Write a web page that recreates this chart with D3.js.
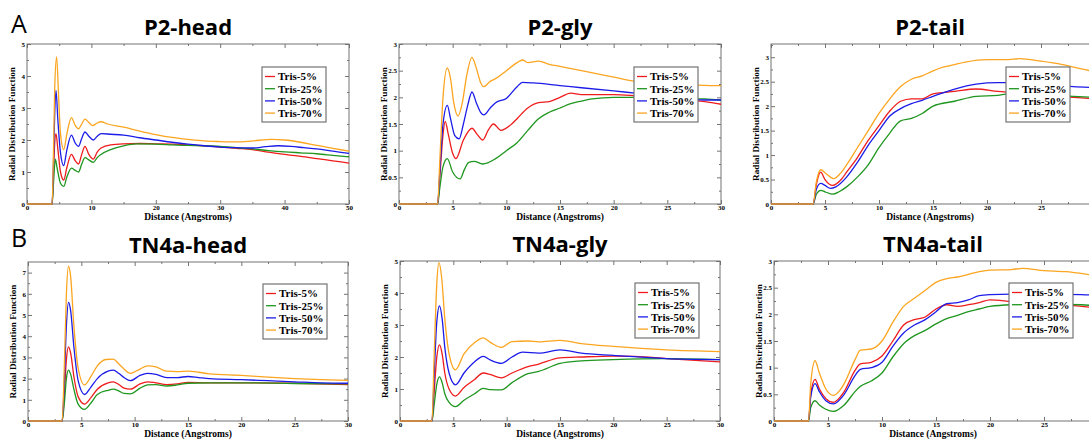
<!DOCTYPE html>
<html>
<head>
<meta charset="utf-8">
<script src="https://cdn.jsdelivr.net/npm/d3@7"></script>
<style>
  body { margin: 0; background: #fff; }
  svg { display: block; }
  .tick text { font-family: 'Liberation Serif', serif; font-weight: bold; fill: #000; }
</style>
</head>
<body>
<svg id="rdf" width="1089" height="440"></svg>
<script>
// series shared by all six panels
const seriesNames = ['Tris-5%', 'Tris-25%', 'Tris-50%', 'Tris-70%'];
const seriesColors = ['#ee1c1c', '#1f961f', '#1c1ce8', '#fba520'];

// P2-head  [distance, g(r)]
const p2Head5 = [[0,0],[3.9,0],[4.1,0.9],[4.3,1.9],[4.5,2.2],[4.8,1.7],[5.2,1.0],[5.7,0.75],[6.2,1.15],[6.9,1.55],[7.5,1.35],[8,1.25],[8.5,1.55],[9,1.8],[9.6,1.55],[10.3,1.4],[10.9,1.62],[11.5,1.75],[13,1.85],[15,1.88],[17.5,1.89],[20,1.88],[22.5,1.87],[25,1.85],[27.5,1.82],[30,1.78],[32.5,1.74],[35,1.7],[37.5,1.62],[40,1.55],[42.5,1.49],[45,1.42],[47.5,1.35],[50,1.28]];
const p2Head25 = [[0,0],[3.9,0],[4.1,0.6],[4.4,1.4],[4.7,1.1],[5.2,0.65],[5.7,0.55],[6.2,0.85],[6.9,1.12],[7.5,1.05],[8,1.0],[8.5,1.25],[9,1.45],[9.6,1.38],[10.3,1.3],[10.9,1.45],[11.5,1.55],[13,1.7],[15,1.82],[17,1.88],[20,1.87],[22.5,1.85],[25,1.83],[27.5,1.82],[30,1.8],[32.5,1.76],[35,1.72],[37.5,1.67],[40,1.63],[42.5,1.6],[45,1.57],[47.5,1.52],[50,1.47]];
const p2Head50 = [[0,0],[3.9,0],[4.1,1.2],[4.3,2.8],[4.5,3.55],[4.8,2.6],[5.2,1.6],[5.7,1.2],[6.2,1.7],[6.9,2.15],[7.5,1.9],[8,1.8],[8.5,2.05],[9,2.25],[9.6,2.12],[10.3,2.0],[10.9,2.12],[11.5,2.2],[13,2.18],[15,2.15],[17.5,2.07],[20,2.0],[22.5,1.93],[25,1.87],[27.5,1.82],[30,1.78],[32.5,1.76],[35,1.75],[37,1.79],[39,1.82],[41,1.8],[43,1.76],[45,1.72],[47.5,1.65],[50,1.58]];
const p2Head70 = [[0,0],[3.9,0],[4.1,1.5],[4.3,3.6],[4.6,4.6],[4.9,3.4],[5.2,2.2],[5.7,1.7],[6.2,2.2],[6.9,2.7],[7.5,2.45],[8,2.35],[8.5,2.5],[9,2.65],[9.6,2.55],[10.2,2.45],[10.8,2.52],[11.5,2.57],[12.5,2.5],[15,2.4],[17.5,2.28],[20,2.17],[22.5,2.08],[25,2.02],[27.5,1.97],[30,1.95],[32.5,1.94],[35,1.97],[38,2.02],[40,2.0],[42.5,1.93],[45,1.83],[47.5,1.74],[50,1.65]];

// P2-gly
const p2Gly5 = [[0,0],[3.6,0],[3.8,0.5],[4.1,1.3],[4.3,1.55],[4.6,1.3],[5.0,0.95],[5.3,0.85],[6,1.2],[6.8,1.42],[7.3,1.3],[7.8,1.2],[8.3,1.38],[8.8,1.5],[9.5,1.38],[10.5,1.5],[11,1.6],[12,1.8],[13,1.9],[14,1.92],[15,2.0],[16,2.08],[17,2.05],[18,2.05],[20,2.05],[22,2.03],[25,1.98],[28.5,1.92],[30,1.87]];
const p2Gly25 = [[0,0],[3.6,0],[3.8,0.3],[4.1,0.7],[4.5,0.85],[5,0.6],[5.7,0.47],[6.1,0.65],[6.5,0.78],[7,0.8],[7.8,0.75],[9,0.85],[10,1.0],[11,1.15],[12,1.38],[13,1.6],[14,1.72],[15,1.8],[16,1.88],[17,1.93],[18,1.97],[20,2.0],[22,2.0],[25,1.99],[28.5,1.97],[30,1.95]];
const p2Gly50 = [[0,0],[3.6,0],[3.8,0.6],[4.1,1.5],[4.5,1.85],[4.8,1.6],[5.2,1.28],[5.6,1.22],[6.0,1.5],[6.4,1.85],[6.8,2.1],[7.2,1.9],[7.6,1.72],[7.9,1.67],[8.5,1.8],[9,1.9],[10,1.98],[11,2.2],[11.5,2.28],[12.5,2.27],[15,2.22],[17,2.18],[20,2.12],[22,2.08],[25,2.02],[28.5,1.95],[30,1.95]];
const p2Gly70 = [[0,0],[3.6,0],[3.8,0.8],[4.1,2.0],[4.5,2.55],[4.8,2.35],[5.1,1.9],[5.5,1.65],[5.9,1.9],[6.3,2.4],[6.8,2.75],[7.2,2.55],[7.6,2.28],[7.9,2.2],[8.5,2.3],[9,2.35],[10,2.5],[11,2.65],[11.5,2.7],[12,2.65],[13,2.68],[14,2.62],[15,2.58],[17,2.5],[20,2.38],[22,2.3],[25,2.26],[29,2.22],[30,2.22]];

// P2-tail
const p2Tail5 = [[0,0],[3.9,0],[4.2,0.4],[4.6,0.65],[5,0.5],[5.7,0.38],[6.5,0.5],[7,0.65],[8,0.95],[9,1.3],[10,1.6],[11,1.9],[12,2.1],[13,2.15],[14,2.15],[15,2.25],[17,2.3],[19,2.35],[21,2.3],[24,2.25],[28,2.18],[30,2.15]];
const p2Tail25 = [[0,0],[3.9,0],[4.2,0.2],[4.6,0.28],[5,0.25],[5.7,0.2],[6.3,0.25],[7,0.35],[8,0.55],[9,0.8],[10,1.15],[11,1.45],[12,1.7],[13,1.75],[14,1.85],[15,2.0],[17,2.1],[19,2.2],[21,2.22],[22,2.25],[25,2.23],[28,2.2],[30,2.18]];
const p2Tail50 = [[0,0],[3.9,0],[4.2,0.3],[4.6,0.42],[5,0.38],[5.5,0.32],[6,0.35],[7,0.55],[8,0.85],[9,1.2],[10,1.5],[11,1.8],[12,1.95],[13,2.05],[14,2.12],[15,2.2],[17,2.35],[19,2.45],[21,2.48],[23,2.48],[25,2.45],[28,2.4],[30,2.38]];
const p2Tail70 = [[0,0],[3.9,0],[4.2,0.45],[4.6,0.7],[5.1,0.62],[5.8,0.52],[6.4,0.62],[7,0.8],[8,1.15],[9,1.5],[10,1.85],[11,2.15],[12,2.4],[13,2.55],[14,2.62],[15,2.72],[16,2.8],[17,2.85],[18,2.9],[20,2.95],[22,2.95],[23,2.97],[25,2.92],[27,2.85],[29,2.75],[30,2.7]];

// TN4a-head
const tn4aHead5 = [[0,0],[3.2,0],[3.4,1.2],[3.6,2.9],[3.8,3.5],[4.0,3.2],[4.3,2.1],[4.7,1.15],[5.3,0.8],[5.9,1.1],[6.5,1.5],[7.5,1.8],[8,1.85],[8.5,1.72],[9,1.55],[9.6,1.5],[10.5,1.75],[11.2,1.85],[12,1.8],[13,1.72],[14,1.75],[15,1.82],[17,1.8],[20,1.8],[25,1.78],[30,1.72]];
const tn4aHead25 = [[0,0],[3.2,0],[3.4,0.8],[3.6,2.0],[3.8,2.4],[4.0,2.2],[4.3,1.5],[4.7,0.8],[5.3,0.55],[5.9,0.85],[6.5,1.25],[7.5,1.45],[8,1.5],[8.5,1.42],[9,1.3],[9.6,1.28],[10.5,1.55],[11.2,1.7],[12,1.72],[13,1.65],[14,1.7],[15,1.78],[17,1.8],[20,1.8],[25,1.77],[30,1.75]];
const tn4aHead50 = [[0,0],[3.2,0],[3.4,1.8],[3.6,4.5],[3.8,5.6],[4.0,5.2],[4.3,3.5],[4.7,1.9],[5.3,1.25],[5.9,1.6],[6.5,2.0],[7.5,2.35],[8,2.4],[8.5,2.25],[9,2.05],[9.6,1.9],[10.5,2.15],[11.2,2.25],[12,2.2],[13,2.05],[14,2.05],[15,2.1],[16,2.05],[17,2.0],[20,1.95],[22.5,1.9],[25,1.85],[27.5,1.8],[30,1.78]];
const tn4aHead70 = [[0,0],[3.2,0],[3.4,2.5],[3.6,6.0],[3.8,7.3],[4.0,6.8],[4.3,4.5],[4.7,2.5],[5.3,1.7],[5.9,2.1],[6.5,2.6],[7.3,2.9],[8,2.92],[8.5,2.7],[9,2.45],[9.6,2.25],[10.5,2.45],[11.2,2.6],[12,2.55],[13,2.35],[14,2.33],[15,2.35],[16,2.3],[17,2.22],[20,2.15],[22.5,2.07],[25,2.0],[27.5,1.95],[30,1.92]];

// TN4a-gly
const tn4aGly5 = [[0,0],[3.0,0],[3.2,0.9],[3.45,2.0],[3.7,2.38],[3.95,2.1],[4.2,1.5],[4.6,1.0],[5.2,0.78],[6,1.05],[7,1.3],[7.8,1.5],[8.5,1.45],[9.5,1.35],[10.5,1.5],[12,1.7],[13,1.78],[15,1.97],[17,2.0],[20,2.03],[22,2.02],[25,1.95],[30,1.85]];
const tn4aGly25 = [[0,0],[3.0,0],[3.2,0.5],[3.45,1.15],[3.7,1.38],[3.95,1.2],[4.2,0.85],[4.6,0.58],[5.2,0.45],[6,0.65],[7,0.85],[7.8,1.02],[8.5,0.98],[9.5,0.97],[10.5,1.2],[12,1.48],[13,1.55],[15,1.8],[17,1.88],[20,1.92],[25,1.95],[30,1.92]];
const tn4aGly50 = [[0,0],[3.0,0],[3.2,1.4],[3.45,3.1],[3.7,3.6],[3.95,3.2],[4.2,2.3],[4.6,1.5],[5.2,1.13],[6,1.5],[7,1.85],[7.8,2.02],[8.5,1.9],[9.5,1.8],[10.5,2.0],[11.5,2.15],[13,2.12],[15,2.22],[17,2.12],[20,2.05],[25,1.95],[30,1.92]];
const tn4aGly70 = [[0,0],[3.0,0],[3.2,2.0],[3.45,4.3],[3.65,4.95],[3.9,4.5],[4.2,3.2],[4.6,2.1],[5.2,1.6],[6,2.1],[7,2.45],[7.8,2.6],[8.5,2.45],[9.5,2.3],[10.5,2.48],[12,2.5],[13,2.47],[15,2.52],[17,2.42],[20,2.33],[25,2.22],[30,2.17]];

// TN4a-tail
const tn4aTail5 = [[0,0],[3.2,0],[3.4,0.5],[3.8,0.78],[4.2,0.6],[4.8,0.42],[5.5,0.35],[6.5,0.55],[7.5,0.95],[8,1.07],[9,1.1],[10,1.22],[11,1.5],[12,1.8],[13,1.9],[14,1.95],[15,2.1],[16,2.18],[17,2.15],[18,2.18],[19,2.22],[20,2.27],[22,2.24],[25,2.2],[28.5,2.15],[30,2.12]];
const tn4aTail25 = [[0,0],[3.2,0],[3.4,0.25],[3.8,0.38],[4.2,0.3],[4.8,0.22],[5.5,0.18],[6.5,0.3],[7.5,0.55],[8,0.65],[9,0.75],[10,0.9],[11,1.2],[12,1.45],[13,1.6],[14,1.7],[15,1.82],[16,1.92],[17,1.98],[18,2.05],[19,2.1],[20,2.15],[22,2.18],[25,2.19],[28.5,2.18],[30,2.15]];
const tn4aTail50 = [[0,0],[3.2,0],[3.4,0.45],[3.8,0.7],[4.2,0.55],[4.8,0.38],[5.5,0.32],[6.5,0.5],[7.5,0.85],[8,0.97],[9,1.0],[10,1.1],[11,1.4],[12,1.65],[13,1.8],[14,1.9],[15,2.05],[16,2.2],[17,2.22],[18,2.27],[19,2.35],[20,2.37],[22,2.38],[25,2.38],[28.5,2.37],[30,2.35]];
const tn4aTail70 = [[0,0],[3.2,0],[3.4,0.7],[3.8,1.13],[4.2,0.9],[4.8,0.6],[5.5,0.48],[6,0.55],[6.5,0.7],[7.5,1.15],[8,1.33],[9,1.35],[10,1.5],[11,1.85],[12,2.15],[13,2.3],[14,2.45],[15,2.6],[16,2.67],[17,2.7],[18,2.75],[19,2.8],[20,2.83],[22,2.84],[23,2.86],[25,2.82],[27,2.8],[29,2.75],[30,2.72]];

// panel layout (plot frame in px) + axis setup
const panels = [
  { title: 'P2-head', letter: 'A', letterY: 33, x0: 27, y0: 44, x1: 349, y1: 204, xMax: 50, xMajor: 10, yMax: 5, yMajor: 1,
    series: [p2Head5, p2Head25, p2Head50, p2Head70] },
  { title: 'P2-gly', x0: 399, y0: 44, x1: 721, y1: 204, xMax: 30, xMajor: 5, yMax: 3, yMajor: 0.5,
    series: [p2Gly5, p2Gly25, p2Gly50, p2Gly70] },
  { title: 'P2-tail', x0: 771, y0: 44, x1: 1095, y1: 204, xMax: 30, xMajor: 5, yMax: 3.27, yMajor: 0.5,
    series: [p2Tail5, p2Tail25, p2Tail50, p2Tail70] },
  { title: 'TN4a-head', letter: 'B', letterY: 247, x0: 28, y0: 262, x1: 348, y1: 421, xMax: 30, xMajor: 5, yMax: 7.5, yMajor: 1,
    series: [tn4aHead5, tn4aHead25, tn4aHead50, tn4aHead70] },
  { title: 'TN4a-gly', x0: 400, y0: 261, x1: 720, y1: 421, xMax: 30, xMajor: 5, yMax: 5, yMajor: 1,
    series: [tn4aGly5, tn4aGly25, tn4aGly50, tn4aGly70] },
  { title: 'TN4a-tail', x0: 774, y0: 261, x1: 1098, y1: 421, xMax: 30, xMajor: 5, yMax: 3, yMajor: 0.5,
    series: [tn4aTail5, tn4aTail25, tn4aTail50, tn4aTail70] },
];

const pageW = 1089;
const svg = d3.select('#rdf');
svg.append('rect').attr('width', pageW).attr('height', 440).attr('fill', '#fff');

const frameColor = '#737373';

panels.forEach((p, pi) => {
  const w = p.x1 - p.x0;
  const h = p.y1 - p.y0;
  const x = d3.scaleLinear().domain([0, p.xMax]).range([0, w]);
  const y = d3.scaleLinear().domain([0, p.yMax]).range([h, 0]);

  const majorX = d3.range(0, p.xMax + 1e-9, p.xMajor);
  const minorX = d3.range(p.xMajor / 2, p.xMax, p.xMajor);
  const yTop = Math.floor(p.yMax / p.yMajor + 1e-9) * p.yMajor;
  const majorY = d3.range(0, yTop + 1e-9, p.yMajor).map(v => +v.toFixed(2));
  const minorY = d3.range(p.yMajor / 2, p.yMax, p.yMajor).map(v => +v.toFixed(3));

  const g = svg.append('g').attr('transform', `translate(${p.x0},${p.y0})`);

  // title
  svg.append('text')
    .attr('x', p.x0 + w / 2 - (pi % 3 === 2 ? 3 : 0))
    .attr('y', p.y0 - 9)
    .attr('text-anchor', 'middle')
    .attr('font-family', 'Open Sans, sans-serif')
    .attr('font-weight', 'bold')
    .attr('font-size', 22)
    .text(p.title);

  if (p.letter) {
    svg.append('text')
      .attr('x', 11)
      .attr('y', p.letterY)
      .attr('font-family', 'Open Sans, sans-serif')
      .attr('font-size', 25)
      .text(p.letter);
  }

  // ticks (inside, all four sides, xmgrace style)
  const addAxis = (axis, tr, vals, size, labels) => {
    const a = g.append('g')
      .attr('transform', tr)
      .call(axis.tickValues(vals).tickSize(-size).tickPadding(2)
        .tickFormat(labels ? d3.format('') : ''));
    a.select('.domain').remove();
    a.selectAll('line').attr('stroke', frameColor);
    return a;
  };
  const xb = addAxis(d3.axisBottom(x), `translate(0,${h})`, majorX, 4, true);
  xb.selectAll('text').attr('font-size', 7).attr('dy', '0.6em');
  // labels past the page edge are not shown (the frame runs off the figure)
  xb.selectAll('.tick').filter(d => p.x0 + x(d) + 4 > pageW).select('text').remove();
  addAxis(d3.axisBottom(x), `translate(0,${h})`, minorX, 2, false);
  addAxis(d3.axisTop(x), 'translate(0,0)', majorX, 4, false);
  addAxis(d3.axisTop(x), 'translate(0,0)', minorX, 2, false);
  const yl = addAxis(d3.axisLeft(y), 'translate(0,0)', majorY, 4, true);
  yl.selectAll('text').attr('font-size', 7);
  addAxis(d3.axisLeft(y), 'translate(0,0)', minorY, 2, false);
  addAxis(d3.axisRight(y), `translate(${w},0)`, majorY, 4, false);
  addAxis(d3.axisRight(y), `translate(${w},0)`, minorY, 2, false);

  // axis titles
  g.append('text')
    .attr('x', w / 2 - (pi % 3 === 2 ? 3 : 0))
    .attr('y', h + 16)
    .attr('text-anchor', 'middle')
    .attr('font-family', 'Liberation Serif, serif')
    .attr('font-weight', 'bold')
    .attr('font-size', 9.5)
    .text('Distance (Angstroms)');
  g.append('text')
    .attr('transform', `translate(-12,${h / 2}) rotate(-90)`)
    .attr('text-anchor', 'middle')
    .attr('font-family', 'Liberation Serif, serif')
    .attr('font-weight', 'bold')
    .attr('font-size', 9.2)
    .text('Radial Distribution Function');

  // curves
  const clipId = `clip-${pi}`;
  g.append('clipPath').attr('id', clipId)
    .append('rect').attr('x', 0).attr('y', -1).attr('width', w).attr('height', h + 2);

  const line = d3.line()
    .x(d => x(d[0]))
    .y(d => y(d[1]))
    .curve(d3.curveMonotoneX);

  g.append('rect')
    .attr('width', w).attr('height', h)
    .attr('fill', 'none')
    .attr('stroke', frameColor)
    .attr('stroke-width', 1);

  g.append('g').attr('clip-path', `url(#${clipId})`)
    .selectAll('path')
    .data(p.series)
    .enter().append('path')
      .attr('d', line)
      .attr('fill', 'none')
      .attr('stroke', (d, i) => seriesColors[i])
      .attr('stroke-width', 1.3);

  // legend box (opaque)
  const lg = g.append('g').attr('transform', `translate(235,${pi < 3 ? 23 : 22})`);
  lg.append('rect')
    .attr('width', 64).attr('height', 55)
    .attr('fill', '#fff')
    .attr('stroke', frameColor)
    .attr('stroke-width', 1.2);
  seriesNames.forEach((name, i) => {
    const ly = 9.5 + i * 12.2;
    lg.append('line')
      .attr('x1', 3).attr('x2', 13)
      .attr('y1', ly).attr('y2', ly)
      .attr('stroke', seriesColors[i])
      .attr('stroke-width', 1.3);
    lg.append('text')
      .attr('x', 16).attr('y', ly + 3.8)
      .attr('font-family', 'Liberation Serif, serif')
      .attr('font-weight', 'bold')
      .attr('font-size', 11)
      .text(name);
  });
});
</script>
</body>
</html>
